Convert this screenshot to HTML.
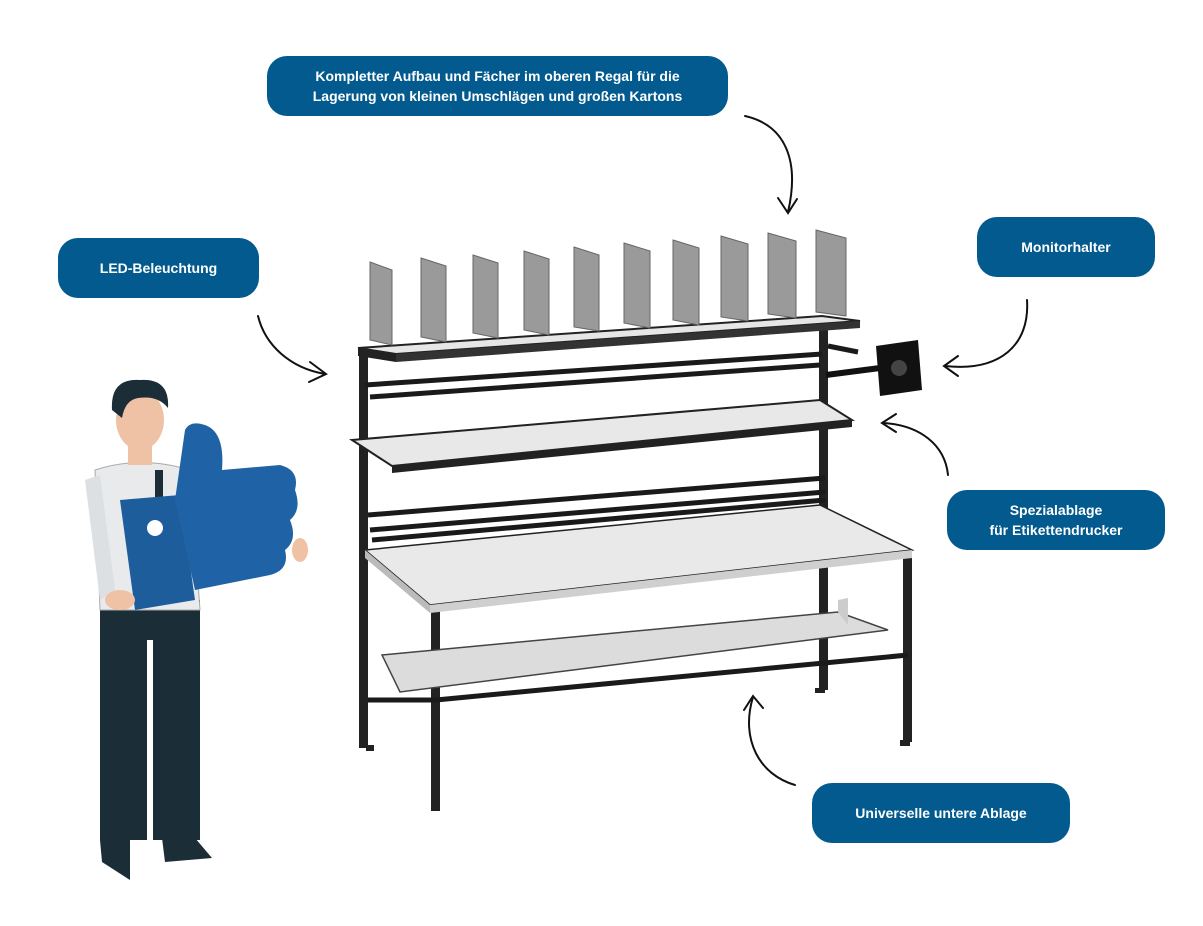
<!DOCTYPE html>
<html><head><meta charset="utf-8"><style>
html,body{margin:0;padding:0;background:#fff;}
.wrap{position:relative;width:1203px;height:926px;overflow:hidden;font-family:"Liberation Sans",sans-serif;}
.lbl{position:absolute;background:#035a8e;color:#fff;border-radius:20px;font-weight:bold;font-size:14px;line-height:20px;display:flex;align-items:center;justify-content:center;text-align:center;}
svg{position:absolute;left:0;top:0;}
</style></head><body><div class="wrap">
<svg width="1203" height="926" viewBox="0 0 1203 926">
<defs>
<marker id="ah" markerWidth="10" markerHeight="10" refX="5" refY="5" orient="auto" markerUnits="userSpaceOnUse">
</marker>
</defs>
<g fill="none" stroke="#111" stroke-width="2" stroke-linecap="round">
<path d="M745 116 C785 125 800 160 788 212"/><path d="M778 198 L788 213 L797 199"/>
<path d="M258 316 C265 345 290 368 325 374"/><path d="M310 362 L326 374 L309 382"/>
<path d="M1027 300 C1030 345 1000 372 945 366"/><path d="M958 356 L944 366 L958 376"/>
<path d="M948 475 C945 445 920 425 883 423"/><path d="M896 414 L882 423 L896 432"/>
<path d="M795 785 C760 775 740 740 753 697"/><path d="M744 710 L753 696 L763 708"/>
</g>
<!-- frame posts -->
<g fill="#222">
<rect x="359" y="348" width="9" height="400"/>
<rect x="366" y="745" width="8" height="6"/>
<rect x="431" y="605" width="9" height="200"/>
<rect x="431" y="803" width="9" height="8"/>
<rect x="819" y="320" width="9" height="370"/>
<rect x="815" y="688" width="10" height="5"/>
<rect x="903" y="552" width="9" height="190"/>
<rect x="900" y="740" width="10" height="6"/>
</g>
<g stroke="#1a1a1a" stroke-width="5" fill="none">
<line x1="365" y1="385" x2="822" y2="354"/>
<line x1="370" y1="397" x2="820" y2="365"/>
<line x1="368" y1="515" x2="825" y2="478"/>
<line x1="370" y1="530" x2="825" y2="492"/>
<line x1="372" y1="540" x2="825" y2="500"/>
<line x1="436" y1="700" x2="908" y2="655"/>
<line x1="368" y1="700" x2="436" y2="700"/>
<line x1="828" y1="346" x2="858" y2="352"/>
</g>
<!-- top shelf -->
<polygon points="358,348 822,316 860,321 396,354" fill="#e6e6e6" stroke="#222" stroke-width="2"/>
<polygon points="358,348 396,354 396,362 358,356" fill="#222"/>
<polygon points="396,354 860,321 860,328 396,362" fill="#333"/>
<!-- dividers -->
<g fill="#9a9a9a" stroke="#666" stroke-width="1">
<polygon points="370,262 392,270 392,345 370,340"/>
<polygon points="421,258 446,266 446,342 421,337"/>
<polygon points="473,255 498,263 498,338 473,333"/>
<polygon points="524,251 549,259 549,335 524,330"/>
<polygon points="574,247 599,255 599,331 574,327"/>
<polygon points="624,243 650,251 650,328 624,323"/>
<polygon points="673,240 699,248 699,325 673,320"/>
<polygon points="721,236 748,244 748,321 721,317"/>
<polygon points="768,233 796,241 796,318 768,314"/>
<polygon points="816,230 846,238 846,316 816,312"/>
</g>
<!-- middle shelf -->
<polygon points="352,440 820,400 852,420 392,466" fill="#e8e8e8" stroke="#222" stroke-width="2"/>
<polygon points="392,466 852,420 852,427 392,473" fill="#222"/>
<!-- desk -->
<polygon points="365,550 820,505 912,550 430,605" fill="#e9e9e9" stroke="#222" stroke-width="1.5"/>
<polygon points="430,605 912,550 912,558 430,613" fill="#cfcfcf"/>
<polygon points="365,550 430,605 430,613 365,558" fill="#bbb"/>
<!-- lower shelf -->
<polygon points="382,655 838,612 888,630 400,692" fill="#dcdcdc" stroke="#444" stroke-width="1.5"/>
<polygon points="838,600 848,598 848,625 838,612" fill="#ccc"/>
<!-- monitor mount -->
<line x1="826" y1="375" x2="880" y2="368" stroke="#111" stroke-width="6"/>
<polygon points="876,346 918,340 922,390 880,396" fill="#111"/>
<circle cx="899" cy="368" r="8" fill="#444"/>
<!-- person -->
<rect x="100" y="600" width="100" height="240" fill="#1b2d36"/>
<rect x="147" y="640" width="6" height="200" fill="#fff"/>
<polygon points="100,840 130,840 130,880 102,862" fill="#1b2d36"/>
<polygon points="162,838 195,838 212,858 165,862" fill="#1b2d36"/>
<path d="M95 470 Q140 455 190 470 L200 610 L100 610 Z" fill="#e8eaec" stroke="#aaa"/>
<path d="M85 480 L100 475 L115 590 L100 600 Z" fill="#dde0e2"/>
<rect x="155" y="470" width="8" height="60" fill="#1b2d36"/>
<rect x="128" y="440" width="24" height="25" fill="#f0c2a5"/>
<ellipse cx="140" cy="420" rx="24" ry="30" fill="#f0c2a5"/>
<path d="M112 410 Q110 378 140 380 Q170 378 168 408 Q158 395 138 398 Q125 400 122 418 Z" fill="#1b2d36"/>
<path d="M120 500 L180 495 L195 600 L135 610 Z" fill="#1d5d9b"/>
<path d="M175 500 L185 430 Q190 420 205 425 Q225 432 222 470 L280 465 Q300 470 295 490 Q302 510 290 520 Q298 540 285 550 Q290 570 270 575 L195 590 Z" fill="#1f63a6"/>
<circle cx="155" cy="528" r="8" fill="#fff"/>
<ellipse cx="300" cy="550" rx="8" ry="12" fill="#f0c2a5"/>
<ellipse cx="120" cy="600" rx="15" ry="10" fill="#f0c2a5"/>
</svg>
<div class="lbl" style="left:267px;top:56px;width:461px;height:60px;">Kompletter Aufbau und Fächer im oberen Regal für die<br>Lagerung von kleinen Umschlägen und großen Kartons</div>
<div class="lbl" style="left:58px;top:238px;width:201px;height:60px;">LED-Beleuchtung</div>
<div class="lbl" style="left:977px;top:217px;width:178px;height:60px;">Monitorhalter</div>
<div class="lbl" style="left:947px;top:490px;width:218px;height:60px;">Spezialablage<br>für Etikettendrucker</div>
<div class="lbl" style="left:812px;top:783px;width:258px;height:60px;">Universelle untere Ablage</div>
</div></body></html>
